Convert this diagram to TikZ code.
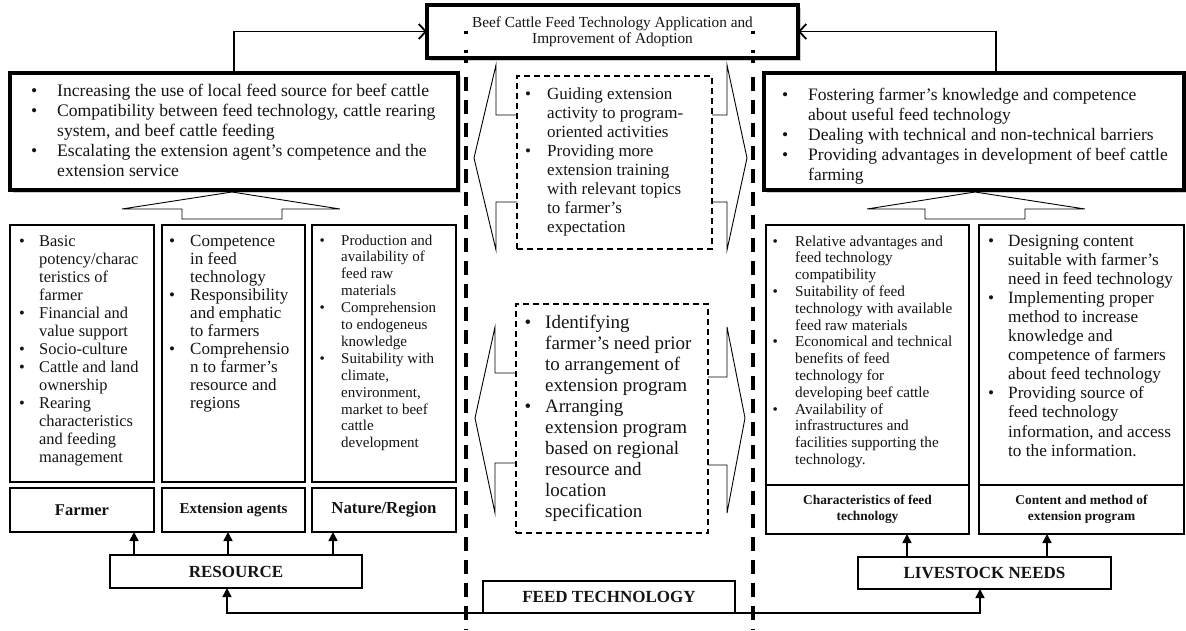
\documentclass[tikz,border=0pt]{standalone}
\usepackage{fontspec}
\setmainfont{Liberation Serif}
\usetikzlibrary{arrows.meta,shadows}
\begin{document}
\begin{tikzpicture}[x=1pt,y=-1pt,
  heavybox/.style={draw, line width=4.2pt, fill=white, drop shadow={shadow xshift=2.5pt, shadow yshift=-2.5pt, fill=black!40}, inner sep=0pt, outer sep=0pt},
  plainbox/.style={draw, line width=1.3pt, fill=white, inner sep=0pt, outer sep=0pt},
  dashbox/.style={draw, line width=1.4pt, dash pattern=on 6pt off 4pt, inner sep=0pt, outer sep=0pt},
  hollow/.style={draw, line width=0.9pt, line join=miter},
  topar/.style={line width=1.8pt, -{Straight Barb[length=7pt,width=15pt,line width=1.8pt]}},
  smallar/.style={line width=1.6pt, -{Triangle[length=9pt,width=9pt]}},
  txt/.style={text=black!92, inner sep=0pt, anchor=base west},
  lab/.style={plainbox, text=black!92, align=center},
  vdash/.style={line width=3.8pt, dash pattern=on 14pt off 9pt},
  vdots/.style={line width=3.5pt, dash pattern=on 3pt off 16pt on 3pt off 7pt}
]
\useasboundingbox (0,0) rectangle (1186,630);

% thick boxes
\node[heavybox, minimum width=371, minimum height=53, font=\fontsize{15.3}{16.5}\selectfont, align=center, text=black!92] (goal) at (612.5,31.5) {Beef Cattle Feed Technology Application and\\Improvement of Adoption};
\node[heavybox, minimum width=448, minimum height=117] (lb) at (234,131.5) {};
\node[heavybox, minimum width=420, minimum height=117] (rb) at (974,131.5) {};

\draw[topar] (lb.north) |- (goal.west);
\draw[topar] ([xshift=22pt]rb.north) |- (goal.east);

% hollow up arrows
\draw[hollow, fill=white] (232,192) -- (340,209) -- (282,209) -- (282,219) -- (182,219) -- (182,209) -- (122,209) -- cycle;
\draw[hollow, fill=white] (975,192) -- (1085,209) -- (1025,209) -- (1025,219) -- (925,219) -- (925,209) -- (867,209) -- cycle;

% columns
\node[plainbox, minimum width=144, minimum height=257] (c1) at (82,353.5) {};
\node[plainbox, minimum width=143, minimum height=257] (c2) at (233.5,353.5) {};
\node[plainbox, minimum width=144, minimum height=257] (c3) at (384,353.5) {};
\node[plainbox, minimum width=203, minimum height=260] (c4) at (867.5,355) {};
\node[plainbox, minimum width=205, minimum height=260] (c5) at (1081.5,355) {};

% labels
\node[lab, minimum width=144, minimum height=44, font=\bfseries\fontsize{16.5}{18}\selectfont] (farmer) at (82,510) {Farmer};
\node[lab, minimum width=143, minimum height=44, font=\bfseries\fontsize{15}{18}\selectfont] (agents) at (233.5,510) {Extension agents};
\node[lab, minimum width=144, minimum height=44, font=\bfseries\fontsize{16.8}{18}\selectfont] (nature) at (384,510) {Nature/Region};
\node[lab, minimum width=203, minimum height=49, font=\bfseries\fontsize{13.4}{16}\selectfont] (chars) at (867.5,509.5) {Characteristics of feed\\technology};
\node[lab, minimum width=205, minimum height=49, font=\bfseries\fontsize{13.4}{16}\selectfont] (content) at (1081.5,509.5) {Content and method of\\extension program};

\node[lab, minimum width=252, minimum height=33, font=\bfseries\fontsize{17}{18}\selectfont] (resource) at (236,571.5) {RESOURCE};
\node[lab, minimum width=253, minimum height=32, font=\bfseries\fontsize{17}{18}\selectfont] (livestock) at (984.5,573) {LIVESTOCK NEEDS};
\node[lab, minimum width=252, minimum height=32, font=\bfseries\fontsize{17}{18}\selectfont] (feedtech) at (609,597) {FEED TECHNOLOGY};

% small arrows
\coordinate (ax1) at (134,0); \coordinate (ax2) at (228,0); \coordinate (ax3) at (333,0);
\coordinate (ax4) at (907,0); \coordinate (ax5) at (1047,0);
\draw[smallar] (resource.north -| ax1) -- (farmer.south -| ax1);
\draw[smallar] (resource.north -| ax2) -- (agents.south -| ax2);
\draw[smallar] (resource.north -| ax3) -- (nature.south -| ax3);
\draw[smallar] (livestock.north -| ax4) -- (chars.south -| ax4);
\draw[smallar] (livestock.north -| ax5) -- (content.south -| ax5);
\coordinate (bl) at (227,613); \coordinate (br) at (980,613);
\draw[line width=1.5pt, {Triangle[length=9pt,width=9pt]}-{Triangle[length=9pt,width=9pt]}] (resource.south -| bl) |- (br) -- (livestock.south -| br);

% middle dashed boxes
\node[dashbox, minimum width=195, minimum height=173] (m1) at (614.5,162.5) {};
\node[dashbox, minimum width=192, minimum height=229] (m2) at (612,418.5) {};

% side hollow arrows
\draw[hollow] (517,115) -- (496,115) -- (496,65) -- (474,158) -- (496,250) -- (496,202) -- (517,202);
\draw[hollow] (712,115) -- (727,115) -- (727,65) -- (747,158) -- (727,250) -- (727,202) -- (712,202);
\draw[hollow] (516,373) -- (495,373) -- (495,327) -- (475,418) -- (495,513) -- (495,463) -- (516,463);
\draw[hollow] (708,377) -- (727,377) -- (727,327) -- (745,418) -- (727,513) -- (727,465) -- (708,465);

% dashed vertical separators
\draw[vdash] (466,77) -- (466,630);
\draw[vdash] (753,77) -- (753,630);
\draw[vdots] (466,31) -- (466,66);
\draw[vdots] (753,31) -- (753,66);

% texts
\node[txt, font=\fontsize{17.6}{20}\selectfont] (lbt) at (31,96) {\begin{tabular}[t]{@{}p{26pt}@{}l@{}}
\textbullet & Increasing the use of local feed source for beef cattle\\
\textbullet & Compatibility between feed technology, cattle rearing\\
 & system, and beef cattle feeding\\
\textbullet & Escalating the extension agent’s competence and the\\
 & extension service
\end{tabular}};

\node[txt, font=\fontsize{17.5}{20}\selectfont] (rbt) at (782,100) {\begin{tabular}[t]{@{}p{26pt}@{}l@{}}
\textbullet & Fostering farmer’s knowledge and competence\\
 & about useful feed technology\\
\textbullet & Dealing with technical and non-technical barriers\\
\textbullet & Providing advantages in development of beef cattle\\
 & farming
\end{tabular}};

\node[txt, font=\fontsize{17}{19}\selectfont] (m1t) at (525,99) {\begin{tabular}[t]{@{}p{22pt}@{}l@{}}
\textbullet & Guiding extension\\
 & activity to program-\\
 & oriented activities\\
\textbullet & Providing more\\
 & extension training\\
 & with relevant topics\\
 & to farmer’s\\
 & expectation
\end{tabular}};

\node[txt, font=\fontsize{19}{21}\selectfont] (m2t) at (524.5,328) {\begin{tabular}[t]{@{}p{20.5pt}@{}l@{}}
\textbullet & Identifying\\
 & farmer’s need prior\\
 & to arrangement of\\
 & extension program\\
\textbullet & Arranging\\
 & extension program\\
 & based on regional\\
 & resource and\\
 & location\\
 & specification
\end{tabular}};

\node[txt, font=\fontsize{16.4}{18}\selectfont] (c1t) at (19,246) {\begin{tabular}[t]{@{}p{20pt}@{}l@{}}
\textbullet & Basic\\
 & potency/charac\\
 & teristics of\\
 & farmer\\
\textbullet & Financial and\\
 & value support\\
\textbullet & Socio-culture\\
\textbullet & Cattle and land\\
 & ownership\\
\textbullet & Rearing\\
 & characteristics\\
 & and feeding\\
 & management
\end{tabular}};

\node[txt, font=\fontsize{17}{18.1}\selectfont] (c2t) at (169,246) {\begin{tabular}[t]{@{}p{21pt}@{}l@{}}
\textbullet & Competence\\
 & in feed\\
 & technology\\
\textbullet & Responsibility\\
 & and emphatic\\
 & to farmers\\
\textbullet & Comprehensio\\
 & n to farmer’s\\
 & resource and\\
 & regions
\end{tabular}};

\node[txt, font=\fontsize{15}{16.9}\selectfont] (c3t) at (319.5,245) {\begin{tabular}[t]{@{}p{21.5pt}@{}l@{}}
\textbullet & Production and\\
 & availability of\\
 & feed raw\\
 & materials\\
\textbullet & Comprehension\\
 & to endogeneus\\
 & knowledge\\
\textbullet & Suitability with\\
 & climate,\\
 & environment,\\
 & market to beef\\
 & cattle\\
 & development
\end{tabular}};

\node[txt, font=\fontsize{15.2}{16.8}\selectfont] (c4t) at (772.5,246) {\begin{tabular}[t]{@{}p{22.5pt}@{}l@{}}
\textbullet & Relative advantages and\\
 & feed technology\\
 & compatibility\\
\textbullet & Suitability of feed\\
 & technology with available\\
 & feed raw materials\\
\textbullet & Economical and technical\\
 & benefits of feed\\
 & technology for\\
 & developing beef cattle\\
\textbullet & Availability of\\
 & infrastructures and\\
 & facilities supporting the\\
 & technology.
\end{tabular}};

\node[txt, font=\fontsize{17.2}{19.1}\selectfont] (c5t) at (988,246) {\begin{tabular}[t]{@{}p{20pt}@{}l@{}}
\textbullet & Designing content\\
 & suitable with farmer’s\\
 & need in feed technology\\
\textbullet & Implementing proper\\
 & method to increase\\
 & knowledge and\\
 & competence of farmers\\
 & about feed technology\\
\textbullet & Providing source of\\
 & feed technology\\
 & information, and access\\
 & to the information.
\end{tabular}};

\end{tikzpicture}
\end{document}
